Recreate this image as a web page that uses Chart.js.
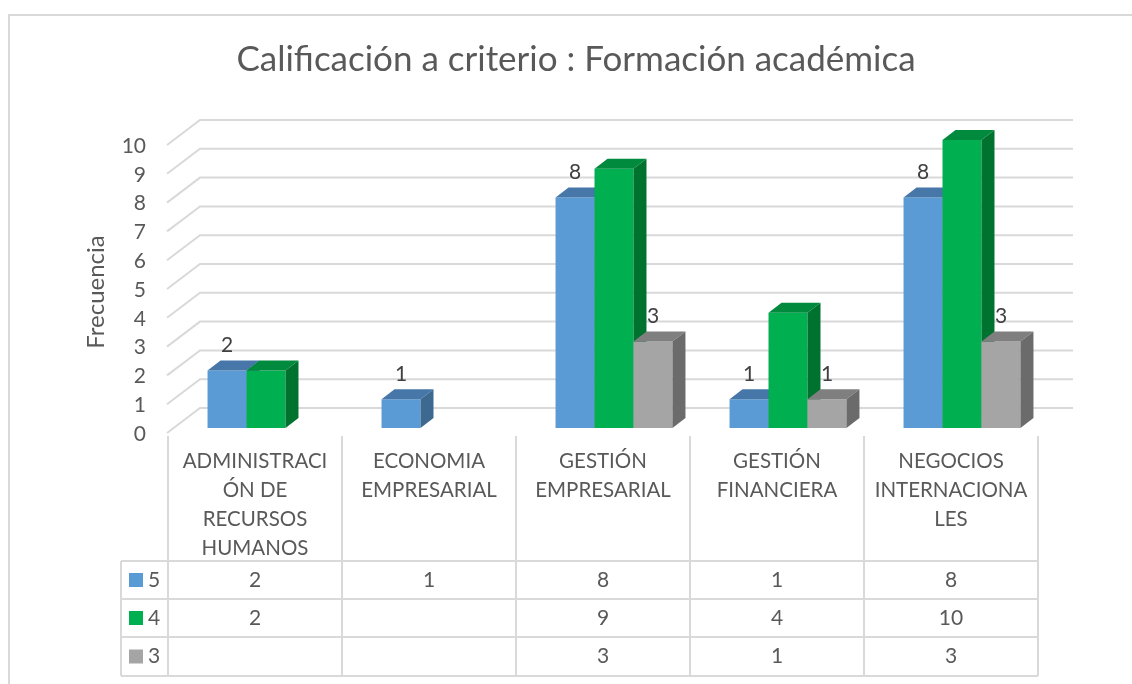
<!DOCTYPE html>
<html>
<head>
<meta charset="utf-8">
<script src="https://cdn.jsdelivr.net/npm/chart.js@4/dist/chart.umd.min.js"></script>
<style>
  html, body { margin: 0; background: #fff; }
  #wrap { width: 1132px; height: 684px; }
</style>
</head>
<body>
<div id="wrap"><canvas id="chart"></canvas></div>
<script>
const titulo = 'Calificación a criterio : Formación académica'
const tituloEje = 'Frecuencia'
const categorias = [
  ['ADMINISTRACI', 'ÓN DE', 'RECURSOS', 'HUMANOS'],
  ['ECONOMIA', 'EMPRESARIAL'],
  ['GESTIÓN', 'EMPRESARIAL'],
  ['GESTIÓN', 'FINANCIERA'],
  ['NEGOCIOS', 'INTERNACIONA', 'LES'],
]
const series = ['5', '4', '3']
const nota5 = [2, 1, 8, 1, 8]
const nota4 = [2, null, 9, 4, 10]
const nota3 = [null, null, 3, 1, 3]
const ticksY = [0, 1, 2, 3, 4, 5, 6, 7, 8, 9, 10]

const frente  = ['#5b9bd5', '#00b050', '#a5a5a5']
const techo   = ['#4677a8', '#008a3e', '#7f7f7f']
const lateral = ['#3d6991', '#00722f', '#6b6b6b']
const conEtiqueta = [true, false, true]

const FONT = 'Lato, "Liberation Sans", sans-serif'
const GRIS = '#d9d9d9'
const TEXTO = '#595959'

const barras3d = {
  id: 'barras3d',
  beforeDatasetsDraw(chart) {
    const { ctx, chartArea: a, scales: { y } } = chart

    // pared del fondo + piso
    ctx.save()
    ctx.strokeStyle = GRIS
    ctx.lineWidth = 2
    ticksY.forEach(v => {
      const py = y.getPixelForValue(v)
      ctx.beginPath()
      ctx.moveTo(a.left - 1, py)
      ctx.lineTo(a.left + 32, py - 25)
      ctx.lineTo(a.right + 35, py - 25)
      ctx.stroke()
    })
    ctx.restore()

    // columnas: frente, techo y lateral, serie por serie
    ctx.save()
    ctx.translate(11, -5)
    const etiquetas = []
    chart.data.datasets.forEach((ds, di) => {
      chart.getDatasetMeta(di).data.forEach((el, i) => {
        if (ds.data[i] == null) return
        el.draw(ctx)
        const { x: cx, y: top, width, base } = el.getProps(['x', 'y', 'width', 'base'], true)
        const l = cx - width / 2, r = cx + width / 2
        ctx.fillStyle = techo[di]
        ctx.beginPath()
        ctx.moveTo(l, top); ctx.lineTo(r, top); ctx.lineTo(r + 13, top - 10); ctx.lineTo(l + 13, top - 10)
        ctx.closePath(); ctx.fill()
        ctx.fillStyle = lateral[di]
        ctx.beginPath()
        ctx.moveTo(r, top); ctx.lineTo(r + 13, top - 10); ctx.lineTo(r + 13, base - 10); ctx.lineTo(r, base)
        ctx.closePath(); ctx.fill()
        if (conEtiqueta[di]) etiquetas.push([String(ds.data[i]), cx, top - 25])
      })
    })
    ctx.fillStyle = '#404040'
    ctx.font = `21px ${FONT}`
    ctx.textAlign = 'center'
    ctx.textBaseline = 'middle'
    etiquetas.forEach(([t, px, py]) => ctx.fillText(t, px, py))
    ctx.restore()
    return false
  },
  afterDraw(chart) {
    const { ctx, chartArea: a, scales: { x, y } } = chart
    ctx.save()

    // marco
    ctx.strokeStyle = GRIS
    ctx.lineWidth = 2
    ctx.strokeRect(9, 15, 1300, 1000)

    // título
    ctx.fillStyle = TEXTO
    ctx.textAlign = 'center'
    ctx.textBaseline = 'middle'
    ctx.font = `35px ${FONT}`
    ctx.fillText(titulo, 576, 60)

    // título del eje
    ctx.save()
    ctx.translate(96, 292)
    ctx.rotate(-Math.PI / 2)
    ctx.font = `24px ${FONT}`
    ctx.fillText(tituloEje, 0, 0)
    ctx.restore()

    // marcas del eje Y
    ctx.textAlign = 'right'
    ctx.font = `21px ${FONT}`
    ticksY.forEach(v => ctx.fillText(String(v), a.left - 22, y.getPixelForValue(v) + 1))

    // tabla de datos
    const paso = (x.right - x.left) / categorias.length
    const filas = [561, 599, 637, 676]
    const izq = 121
    ctx.strokeStyle = GRIS
    ctx.lineWidth = 2
    ctx.beginPath()
    filas.forEach(fy => { ctx.moveTo(izq, fy); ctx.lineTo(x.right, fy) })
    for (let i = 0; i <= categorias.length; i++) {
      const px = x.left + i * paso
      ctx.moveTo(px, 436); ctx.lineTo(px, filas[3])
    }
    ctx.moveTo(izq, filas[0]); ctx.lineTo(izq, filas[3])
    ctx.stroke()

    ctx.fillStyle = TEXTO
    ctx.textAlign = 'center'
    ctx.font = `20.5px ${FONT}`
    categorias.forEach((lineas, i) => {
      const cx = x.getPixelForValue(i)
      lineas.forEach((t, k) => ctx.fillText(t, cx, 461 + k * 29))
    })

    ctx.font = `21px ${FONT}`
    const valores = [nota5, nota4, nota3]
    valores.forEach((serie, s) => {
      const cy = (filas[s] + filas[s + 1]) / 2
      ctx.fillStyle = frente[s]
      ctx.fillRect(129, cy - 7, 14, 14)
      ctx.fillStyle = TEXTO
      ctx.textAlign = 'left'
      ctx.fillText(series[s], 148, cy)
      ctx.textAlign = 'center'
      serie.forEach((v, i) => {
        if (v != null) ctx.fillText(String(v), x.getPixelForValue(i), cy)
      })
    })
    ctx.restore()
  },
}

new Chart(document.getElementById('chart'), {
  type: 'bar',
  data: {
    labels: categorias,
    datasets: [
      { label: series[0], data: nota5, backgroundColor: frente[0] },
      { label: series[1], data: nota4, backgroundColor: frente[1] },
      { label: series[2], data: nota3, backgroundColor: frente[2] },
    ],
  },
  options: {
    responsive: true, maintainAspectRatio: false,
    animation: false,
    layout: { padding: { left: 168, right: 94, top: 145, bottom: 251 } },
    datasets: { bar: { categoryPercentage: 0.672, barPercentage: 1, borderWidth: 0 } },
    plugins: { legend: { display: false }, title: { display: false }, tooltip: { enabled: false } },
    scales: {
      x: { display: false },
      y: { display: false, min: 0, max: 10, ticks: { stepSize: 1 } },
    },
  },
  plugins: [barras3d],
})
</script>
</body>
</html>
